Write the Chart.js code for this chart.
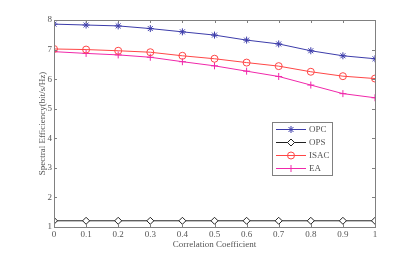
<!DOCTYPE html>
<html>
<head>
<meta charset="utf-8">
<script src="https://cdn.jsdelivr.net/npm/chart.js@4"></script>
<style>
  html, body { margin: 0; padding: 0; background: #fff; }
  #wrap { width: 415px; height: 255px; }
</style>
</head>
<body>
<div id="wrap"><canvas id="myChart" width="415" height="255"></canvas></div>
<script>
const rho = [0, 0.1, 0.2, 0.3, 0.4, 0.5, 0.6, 0.7, 0.8, 0.9, 1];
const xTicks = ['0', '0.1', '0.2', '0.3', '0.4', '0.5', '0.6', '0.7', '0.8', '0.9', '1'];
const opc = [7.86, 7.83, 7.80, 7.71, 7.60, 7.49, 7.32, 7.19, 6.96, 6.79, 6.69];
const ops = [1.21, 1.21, 1.21, 1.21, 1.21, 1.21, 1.21, 1.21, 1.21, 1.21, 1.21];
const isac = [7.02, 7.00, 6.96, 6.91, 6.79, 6.69, 6.56, 6.44, 6.25, 6.10, 6.02];
const ea = [6.93, 6.87, 6.82, 6.74, 6.59, 6.45, 6.27, 6.09, 5.80, 5.51, 5.37];

const font = 'Liberation Serif';
const textColor = '#555';
const axisColor = '#808080';

const series = [
  { label: 'OPC', data: opc, color: 'rgb(60,60,170)', style: 'star', fill: 'rgb(60,60,170)' },
  { label: 'OPS', data: ops, color: '#222', style: 'rectRot', fill: '#fff' },
  { label: 'ISAC', data: isac, color: 'rgb(255,70,70)', style: 'circle', fill: 'rgba(0,0,0,0)' },
  { label: 'EA', data: ea, color: 'rgb(240,40,170)', style: 'cross', fill: 'rgb(240,40,170)' }
];

// box, inward ticks and legend
const matlabBox = {
  id: 'matlabBox',
  afterDraw(chart) {
    const ctx = chart.ctx;
    const a = chart.chartArea;
    const xs = chart.scales.x, ys = chart.scales.y;
    ctx.save();
    ctx.strokeStyle = axisColor;
    ctx.lineWidth = 1;
    ctx.strokeRect(a.left + 0.5, a.top + 0.5, a.right - a.left, a.bottom - a.top);
    ctx.beginPath();
    rho.forEach(v => {
      const px = Math.round(xs.getPixelForValue(v)) + 0.5;
      ctx.moveTo(px, a.bottom); ctx.lineTo(px, a.bottom - 3);
      ctx.moveTo(px, a.top); ctx.lineTo(px, a.top + 3);
    });
    for (let v = 1; v <= 8; v++) {
      const py = Math.round(ys.getPixelForValue(v)) + 0.5;
      ctx.moveTo(a.left, py); ctx.lineTo(a.left + 3, py);
      ctx.moveTo(a.right, py); ctx.lineTo(a.right - 3, py);
    }
    ctx.stroke();

    // legend
    const lx = 272, ly = 122, lw = 60, lh = 53;
    ctx.fillStyle = '#fff';
    ctx.fillRect(lx, ly, lw, lh);
    ctx.strokeStyle = axisColor;
    ctx.strokeRect(lx + 0.5, ly + 0.5, lw, lh);
    ctx.font = '9px "' + font + '"';
    ctx.textBaseline = 'middle';
    series.forEach((s, i) => {
      const y = ly + 7.5 + i * 13;
      ctx.strokeStyle = s.color;
      ctx.lineWidth = 1;
      ctx.beginPath();
      ctx.moveTo(lx + 4, y); ctx.lineTo(lx + 34, y);
      ctx.stroke();
      ctx.fillStyle = s.fill;
      Chart.helpers.drawPoint(ctx, { pointStyle: s.style, radius: 3.5, borderWidth: 1 }, lx + 19, y);
      ctx.fillStyle = textColor;
      ctx.fillText(s.label, lx + 37, y + 0.5);
    });
    ctx.restore();
  }
};

const ctx = document.getElementById('myChart').getContext('2d');
const chart = new Chart(ctx, {
  type: 'line',
  data: {
    datasets: series.map(s => ({
      label: s.label,
      data: rho.map((x, i) => ({ x: x, y: s.data[i] })),
      borderColor: s.color,
      backgroundColor: s.fill,
      pointBorderColor: s.color,
      pointBackgroundColor: s.fill,
      pointStyle: s.style,
      pointRadius: 3.5,
      pointBorderWidth: 1,
      borderWidth: 1,
      tension: 0
    }))
  },
  plugins: [matlabBox],
  options: {
    responsive: false,
    animation: false,
    events: [],
    layout: { padding: { left: 37, right: 40, top: 20, bottom: 5 } },
    plugins: { legend: { display: false }, tooltip: { enabled: false } },
    scales: {
      x: {
        type: 'linear',
        min: 0,
        max: 1,
        afterBuildTicks: axis => { axis.ticks = rho.map(v => ({ value: v })); },
        afterFit: axis => { axis.height = 23; },
        grid: { display: false, drawTicks: false },
        border: { display: false },
        ticks: {
          callback: (v, i) => xTicks[i],
          color: textColor,
          font: { family: font, size: 9 },
          padding: 2,
          maxRotation: 0,
          autoSkip: false
        },
        title: {
          display: true,
          text: 'Correlation Coefficient',
          color: textColor,
          font: { family: font, size: 9 },
          padding: { top: 0, bottom: 0 }
        }
      },
      y: {
        min: 1,
        max: 8,
        afterFit: axis => { axis.width = 17; },
        grid: { display: false, drawTicks: false },
        border: { display: false },
        ticks: {
          stepSize: 1,
          color: textColor,
          font: { family: font, size: 9 },
          padding: 2
        },
        title: {
          display: true,
          text: 'Spectral Efficiency(bit/s/Hz)',
          color: textColor,
          font: { family: font, size: 9 },
          padding: { top: 0, bottom: 0 }
        }
      }
    }
  }
});
</script>
</body>
</html>
